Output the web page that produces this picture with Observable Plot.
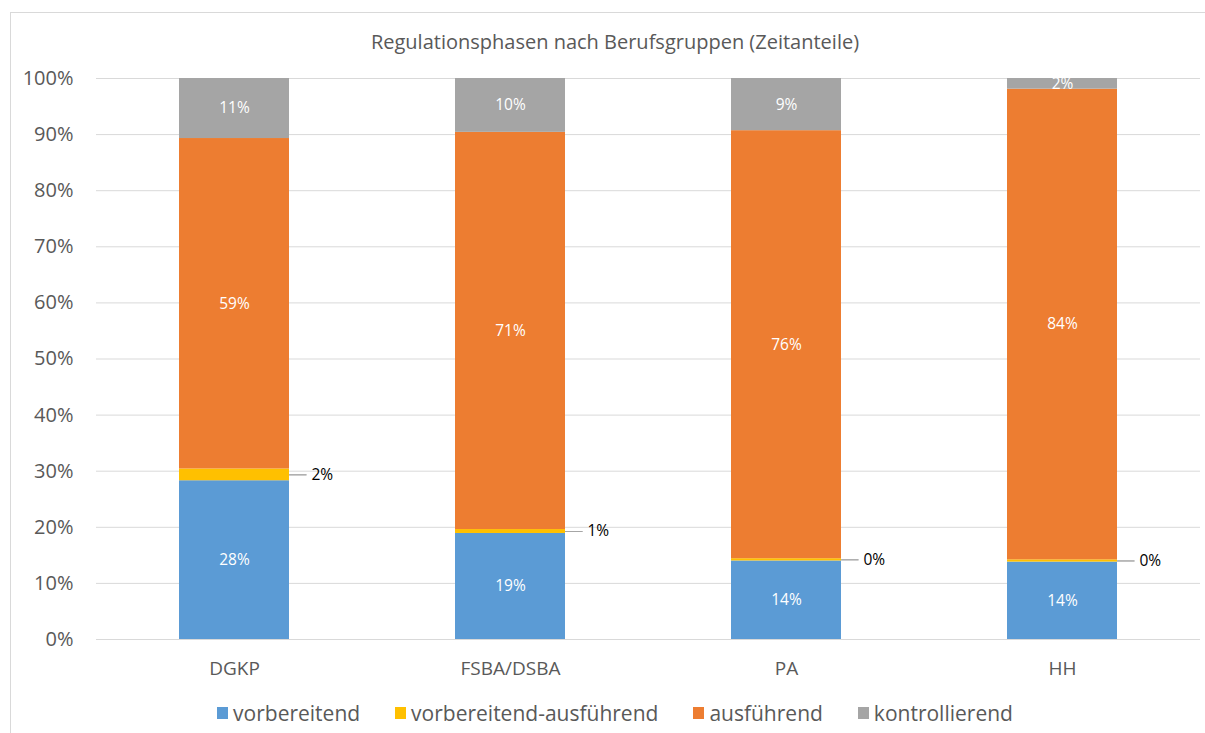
<!DOCTYPE html>
<html>
<head>
<meta charset="utf-8">
<script src="https://cdn.jsdelivr.net/npm/d3@7"></script>
<script src="https://cdn.jsdelivr.net/npm/@observablehq/plot@0.6"></script>
<style>
  html, body { margin: 0; padding: 0; background: #fff; }
  body { width: 1205px; height: 733px; position: relative; overflow: hidden; font-family: "Open Sans", sans-serif; }
  #frame { position: absolute; left: 10px; top: 12px; right: 0; bottom: 0; border-left: 1px solid #d9d9d9; border-top: 1px solid #d9d9d9; }
  #title { position: absolute; left: 0; width: 1230px; top: 28px; text-align: center; font-size: 20px; line-height: 28px; color: #595959; }
  #chart { position: absolute; left: 0; top: 60px; }
  #legend { position: absolute; left: 0; width: 1230px; top: 698px; display: flex; justify-content: center; gap: 35px; font-size: 21px; line-height: 30px; color: #595959; }
  .item { display: flex; align-items: center; gap: 5px; }
  .sw { width: 11px; height: 12px; display: inline-block; }
</style>
</head>
<body>
<div id="frame"></div>
<div id="title">Regulationsphasen nach Berufsgruppen (Zeitanteile)</div>
<div id="chart"></div>
<div id="legend"></div>
<script>
const groups = ["DGKP", "FSBA/DSBA", "PA", "HH"];
const phases = ["vorbereitend", "vorbereitend-ausführend", "ausführend", "kontrollierend"];
const colors = ["#5B9BD5", "#FFC000", "#ED7D31", "#A5A5A5"];
const vorbereitend = [28.3, 18.9, 14.0, 13.8];
const vorbereitendAusfuehrend = [2.1, 0.7, 0.4, 0.4];
const ausfuehrend = [58.9, 70.8, 76.3, 83.9];
const kontrollierend = [10.7, 9.6, 9.3, 1.9];
const yTicks = [0, 10, 20, 30, 40, 50, 60, 70, 80, 90, 100];

const series = [vorbereitend, vorbereitendAusfuehrend, ausfuehrend, kontrollierend];
const data = [];
groups.forEach((g, gi) => {
  phases.forEach((p, pi) => {
    data.push({group: g, phase: p, value: series[pi][gi]});
  });
});
const YELLOW = "vorbereitend-ausführend";
const fmt = d => Math.round(d.value) + "%";
const stackOpts = {x: "group", y: "value", z: "phase", order: phases};

const chart = Plot.plot({
  width: 1205,
  height: 630,
  marginTop: 18,
  marginBottom: 51,
  marginLeft: 96,
  marginRight: 5,
  style: {fontFamily: "Open Sans, sans-serif", background: "transparent"},
  x: {domain: groups, paddingInner: 0.6, paddingOuter: 0.3, label: null, tickSize: 0, tickPadding: 22},
  y: {domain: [0, 100], label: null, ticks: yTicks, tickFormat: d => d + "%", tickSize: 0, tickPadding: 23},
  color: {domain: phases, range: colors},
  marks: [
    Plot.gridY(yTicks, {stroke: "#d9d9d9", strokeOpacity: 1, strokeWidth: 1}),
    Plot.barY(data, Plot.stackY({...stackOpts, fill: "phase"})),
    Plot.text(data, Plot.stackY({...stackOpts, text: d => d.phase === YELLOW ? null : fmt(d), fill: "white", fontSize: 15.5})),
    Plot.vector(data, Plot.stackY({...stackOpts,
      length: 17, rotate: 90, anchor: "start", shape: "spike", r: 0,
      stroke: "#a6a6a6", strokeOpacity: d => d.phase === YELLOW ? 1 : 0, strokeWidth: 1, dx: 55})),
    Plot.text(data, Plot.stackY({...stackOpts, text: d => d.phase === YELLOW ? fmt(d) : null,
      fill: "#000", fontSize: 15.5, textAnchor: "start", dx: 77}))
  ]
});
chart.querySelectorAll("[aria-label='y-axis tick label']").forEach(g => { g.setAttribute("font-size", "20"); g.setAttribute("fill", "#595959"); });
chart.querySelectorAll("[aria-label='x-axis tick label']").forEach(g => { g.setAttribute("font-size", "19"); g.setAttribute("fill", "#595959"); });
document.getElementById("chart").appendChild(chart);

const legend = document.getElementById("legend");
phases.forEach((p, i) => {
  const it = document.createElement("div");
  it.className = "item";
  const sw = document.createElement("span");
  sw.className = "sw";
  sw.style.background = colors[i];
  const tx = document.createElement("span");
  tx.textContent = p;
  it.appendChild(sw);
  it.appendChild(tx);
  legend.appendChild(it);
});
</script>
</body>
</html>
